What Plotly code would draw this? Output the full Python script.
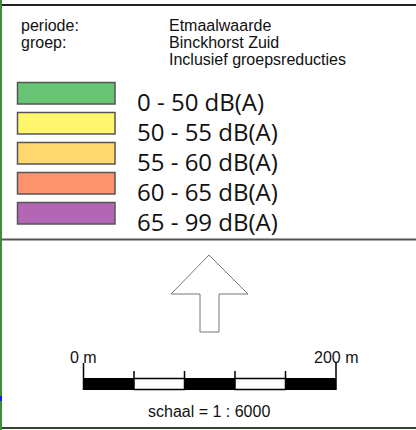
import plotly.graph_objects as go

# ---- data ----
header_keys = ["periode:", "groep:", ""]
header_values = ["Etmaalwaarde", "Binckhorst Zuid", "Inclusief groepsreducties"]
class_labels = ["0 - 50 dB(A)", "50 - 55 dB(A)", "55 - 60 dB(A)", "60 - 65 dB(A)", "65 - 99 dB(A)"]
class_colors = ["#66c474", "#fff66e", "#ffd86e", "#ff936e", "#b366b3"]
scale_labels = ["0 m", "200 m"]
scale_segment_fill = ["black", "white", "black", "white", "black"]
scale_text = "schaal = 1 : 6000"

W, H = 416, 430
fig = go.Figure()
fig.add_trace(go.Scatter(x=[0, W], y=[0, H], mode="markers", marker=dict(opacity=0), hoverinfo="skip", showlegend=False))

shapes = []
ann = []
SMALL = 16

# frame lines
shapes.append(dict(type="line", x0=0, x1=W, y0=5, y1=5, line=dict(color="#222", width=2)))
shapes.append(dict(type="line", x0=0, x1=W, y0=239.5, y1=239.5, line=dict(color="#555", width=2)))
shapes.append(dict(type="line", x0=0, x1=W, y0=428, y1=428, line=dict(color="#334433", width=2)))
shapes.append(dict(type="line", x0=1, x1=1, y0=0, y1=H, line=dict(color="#3a8f3a", width=2)))
shapes.append(dict(type="line", x0=1, x1=1, y0=396, y1=401, line=dict(color="#1a1aff", width=2)))

# header
hy = [25, 42, 59]
for i, (k, v) in enumerate(zip(header_keys, header_values)):
    if k:
        ann.append(dict(x=19, y=hy[i], text=k, xanchor="left", yanchor="middle", showarrow=False,
                        font=dict(family="Liberation Sans", size=SMALL, color="#111")))
    ann.append(dict(x=167, y=hy[i], text=v, xanchor="left", yanchor="middle", showarrow=False,
                    font=dict(family="Liberation Sans", size=SMALL, color="#111")))

# class swatches
for i, (lab, col) in enumerate(zip(class_labels, class_colors)):
    y0 = 82.5 + 30 * i
    shapes.append(dict(type="rect", x0=17.5, x1=115, y0=y0, y1=y0 + 21.5, fillcolor=col,
                       line=dict(color="#555", width=1.5)))
    ann.append(dict(x=135, y=101 + 30 * i, text=lab, xanchor="left", yanchor="middle", showarrow=False,
                    font=dict(family="Open Sans", size=24, color="#111")))

# north arrow
pts = [(209, 255), (248, 294), (219, 294), (219, 332), (200, 332), (200, 294), (171, 294)]
path = "M " + " L ".join(f"{x},{y}" for x, y in pts) + " Z"
shapes.append(dict(type="path", path=path, fillcolor="white", line=dict(color="#777", width=1)))

# scale bar
xs = [83.5, 134, 184.5, 235, 285.5, 336]
for i, f in enumerate(scale_segment_fill):
    if f == "black":
        shapes.append(dict(type="rect", x0=xs[i], x1=xs[i + 1], y0=378, y1=390, fillcolor="black",
                           line=dict(width=0)))
    else:
        shapes.append(dict(type="rect", x0=xs[i], x1=xs[i + 1], y0=378.5, y1=389.5, fillcolor="white",
                           line=dict(color="black", width=1.5)))
shapes.append(dict(type="line", x0=xs[0], x1=xs[0], y0=363, y1=390, line=dict(color="black", width=1.5)))
shapes.append(dict(type="line", x0=xs[-1], x1=xs[-1], y0=363, y1=390, line=dict(color="black", width=1.5)))
for x in xs[1:-1]:
    shapes.append(dict(type="line", x0=x, x1=x, y0=371, y1=379, line=dict(color="black", width=1.5)))
ann.append(dict(x=xs[0], y=357, text=scale_labels[0], xanchor="center", yanchor="middle", showarrow=False,
                font=dict(family="Liberation Sans", size=SMALL, color="#111")))
ann.append(dict(x=xs[-1], y=357, text=scale_labels[1], xanchor="center", yanchor="middle", showarrow=False,
                font=dict(family="Liberation Sans", size=SMALL, color="#111")))
ann.append(dict(x=209, y=411, text=scale_text, xanchor="center", yanchor="middle", showarrow=False,
                font=dict(family="Liberation Sans", size=SMALL, color="#111")))

fig.update_layout(
    width=W, height=H, margin=dict(l=0, r=0, t=0, b=0),
    paper_bgcolor="white", plot_bgcolor="white",
    xaxis=dict(range=[0, W], visible=False, fixedrange=True),
    yaxis=dict(range=[H, 0], visible=False, fixedrange=True),
    shapes=shapes, annotations=ann, showlegend=False,
)
fig.write_html("out.html", config={"displayModeBar": False},
               post_script="document.body.style.margin='0';document.body.style.overflow='hidden';")
